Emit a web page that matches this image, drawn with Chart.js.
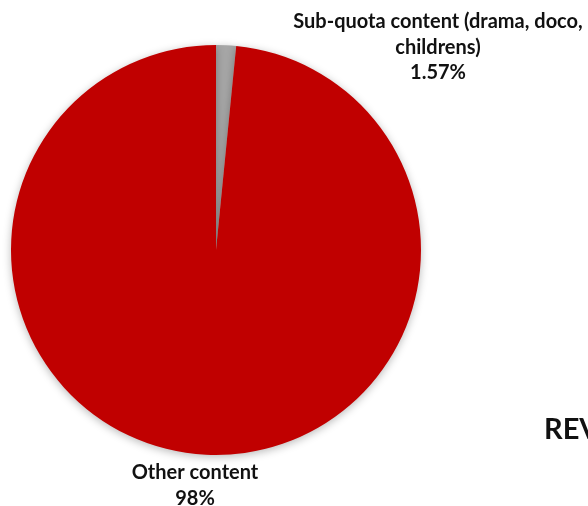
<!DOCTYPE html>
<html>
<head>
<meta charset="utf-8">
<script src="https://cdn.jsdelivr.net/npm/chart.js@4/dist/chart.umd.min.js"></script>
<style>
  html, body { margin: 0; padding: 0; background: #fff; }
  #wrap { width: 588px; height: 506px; position: relative; overflow: hidden; }
</style>
</head>
<body>
<div id="wrap"><canvas id="pie" width="588" height="506"></canvas></div>
<script>
// datos del gráfico
const categories = ['Sub-quota content (drama, doco, childrens)', 'Other content'];
const shares = [1.57, 98.43];
const shareLabels = ['1.57%', '98%'];
const labelLines = [
    ['Sub-quota content (drama, doco,', 'childrens)', shareLabels[0]],
    ['Other content', shareLabels[1]]
];
const sliceColors = ['#A6A6A6', '#C00000'];
const titleText = 'REVENUE';

// etiquetas fuera del pastel
const outerLabels = {
    id: 'outerLabels',
    afterDraw(chart) {
        const ctx = chart.ctx;
        const meta = chart.getDatasetMeta(0);
        ctx.save();
        ctx.fillStyle = '#111';
        ctx.textAlign = 'center';
        ctx.textBaseline = 'middle';
        ctx.font = 'bold 20px Lato';
        // posiciones de los bloques de texto
        const spots = [
            { x: 438, y: 22 },
            { x: 195, y: 473 }
        ];
        meta.data.forEach(function(arc, i) {
            labelLines[i].forEach(function(t, j) {
                ctx.fillText(t, spots[i].x, spots[i].y + j * 25.5);
            });
        });
        ctx.font = 'bold 29px Lato';
        ctx.textAlign = 'left';
        ctx.textBaseline = 'alphabetic';
        ctx.fillText(titleText, 544, 439);
        ctx.restore();
    }
};

const shadow = {
    id: 'shadow',
    beforeDatasetsDraw(chart) {
        const ctx = chart.ctx;
        ctx.save();
        ctx.shadowColor = 'rgba(0,0,0,0.28)';
        ctx.shadowBlur = 8;
        ctx.shadowOffsetX = 0;
        ctx.shadowOffsetY = 2;
    },
    afterDatasetsDraw(chart) {
        chart.ctx.restore();
    }
};

const canvas = document.getElementById('pie');
new Chart(canvas.getContext('2d'), {
    type: 'pie',
    data: {
        labels: categories,
        datasets: [{
            data: shares,
            backgroundColor: sliceColors,
            borderWidth: 0,
            hoverOffset: 0
        }]
    },
    options: {
        responsive: false,
        animation: false,
        layout: { padding: { left: 11, right: 167, top: 45, bottom: 51 } },
        plugins: {
            legend: { display: false },
            tooltip: { enabled: false }
        }
    },
    plugins: [shadow, outerLabels]
});
</script>
</body>
</html>
